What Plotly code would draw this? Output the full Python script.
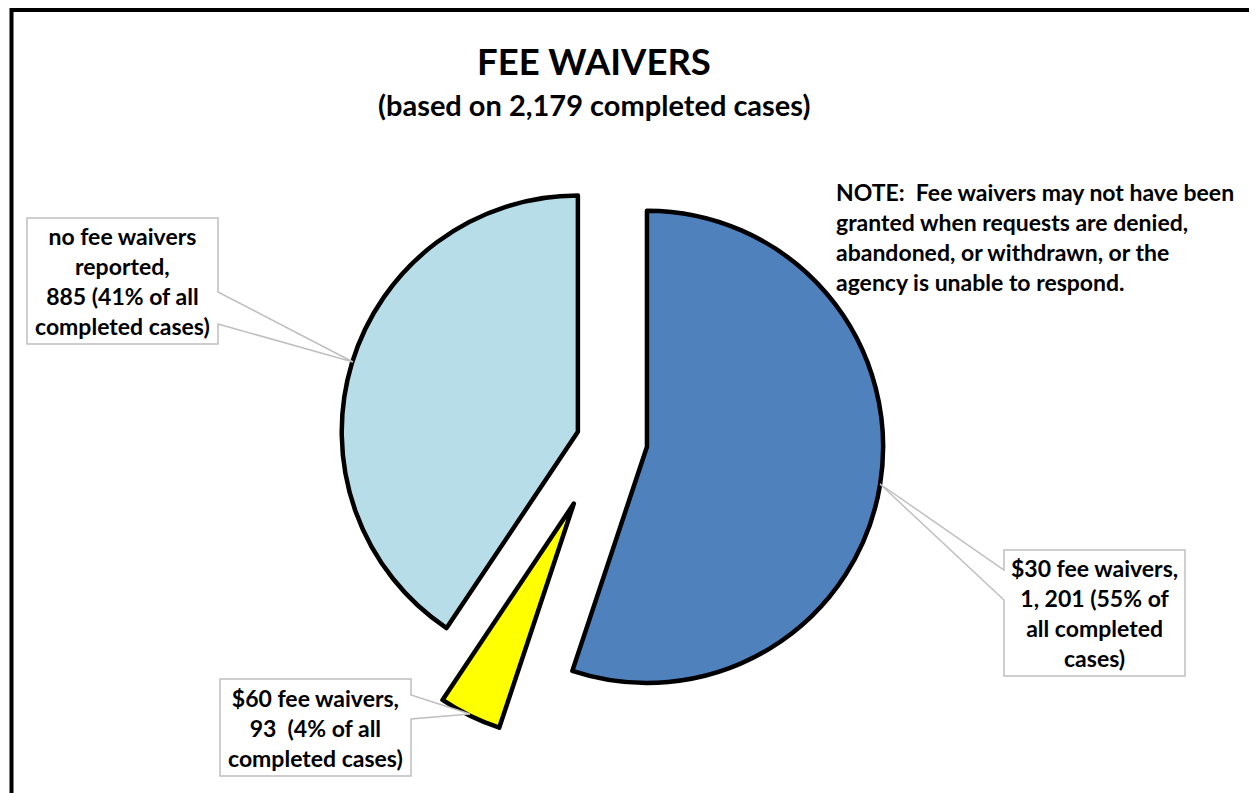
import plotly.graph_objects as go

# Browser body margin is 8px, so the figure is sized to fill the rest of the window
OFF = 8
W, H = 1257 - OFF, 793 - OFF

# ---- data ----
categories = ["$30 fee waivers", "$60 fee waivers", "no fee waivers reported"]
values = [1201, 93, 885]
colors = ["#4F81BD", "#FFFF00", "#B7DEE8"]
pulls = [0.18, 0.30, 0.12]

label_texts = [
    "$30 fee waivers,<br>1, 201 (55% of<br>all completed<br>cases)",
    "$60 fee waivers,<br>93  (4% of all<br>completed cases)",
    "no fee waivers<br>reported,<br>885 (41% of all<br>completed cases)",
]
title_text = "FEE WAIVERS"
subtitle_text = "(based on 2,179 completed cases)"
note_text = ("NOTE:  Fee waivers may not have been<br>granted when requests are denied,<br>"
             "abandoned, or withdrawn, or the<br>agency is unable to respond.")

FONT = "Lato"


def px(x):
    return (x - OFF) / W


def py(y):
    return 1 - (y - OFF) / H


fig = go.Figure()
fig.add_trace(go.Pie(
    labels=categories, values=values, sort=False, direction="clockwise",
    rotation=0, pull=pulls, textinfo="none", showlegend=False,
    marker=dict(colors=colors, line=dict(color="black", width=4.5)),
    domain=dict(x=[px(298), px(912)], y=[py(747), py(133)]),
))

shapes = []
# outer border (cropped chart frame)
shapes.append(dict(type="rect", xref="paper", yref="paper",
                   x0=px(11.5), y0=py(10), x1=px(1290), y1=py(830),
                   line=dict(color="black", width=4), layer="above"))
shapes.append(dict(type="line", xref="paper", yref="paper",
                   x0=px(1256), y0=py(12), x1=px(1256), y1=py(800),
                   line=dict(color="#BFBFBF", width=1.5)))


def callout(box, side, p1, p2, tip):
    x0, y0, x1, y1 = box
    if side == "right":
        pts = [(x0, y0), (x1, y0), (x1, p1), tip, (x1, p2), (x1, y1), (x0, y1)]
    else:
        pts = [(x0, y0), (x1, y0), (x1, y1), (x0, y1), (x0, p2), tip, (x0, p1)]
    d = "M " + " L ".join(f"{px(a):.5f},{py(b):.5f}" for a, b in pts) + " Z"
    return dict(type="path", xref="paper", yref="paper", path=d,
                fillcolor="white", line=dict(color="#BFBFBF", width=1.5), layer="above")


shapes.append(callout((1004, 550, 1185, 676), "left", 570, 600, (880, 484)))
shapes.append(callout((220, 679, 411, 776), "right", 695, 719, (470, 714)))
shapes.append(callout((27, 218, 218, 344), "right", 292, 324, (353, 362)))

annotations = [
    dict(text=title_text, x=px(594), y=py(61), font=dict(size=36.5)),
    dict(text=subtitle_text, x=px(594), y=py(105), font=dict(size=29)),
    dict(text=note_text, x=px(834), y=py(237), xanchor="left", align="left",
         font=dict(size=23)),
    dict(text=label_texts[0], x=px(1094.5), y=py(613), font=dict(size=23)),
    dict(text=label_texts[1], x=px(315.5), y=py(727.5), font=dict(size=23)),
    dict(text=label_texts[2], x=px(122.5), y=py(281), font=dict(size=23)),
]
for a in annotations:
    a.setdefault("xanchor", "center")
    a.setdefault("align", "center")
    a.update(xref="paper", yref="paper", yanchor="middle", showarrow=False)
    a["font"].update(family=FONT, color="black", weight="bold")

fig.update_layout(
    width=W, height=H, margin=dict(l=0, r=0, t=0, b=0),
    paper_bgcolor="white", plot_bgcolor="white",
    shapes=shapes, annotations=annotations,
)

fig.write_html("out.html")
